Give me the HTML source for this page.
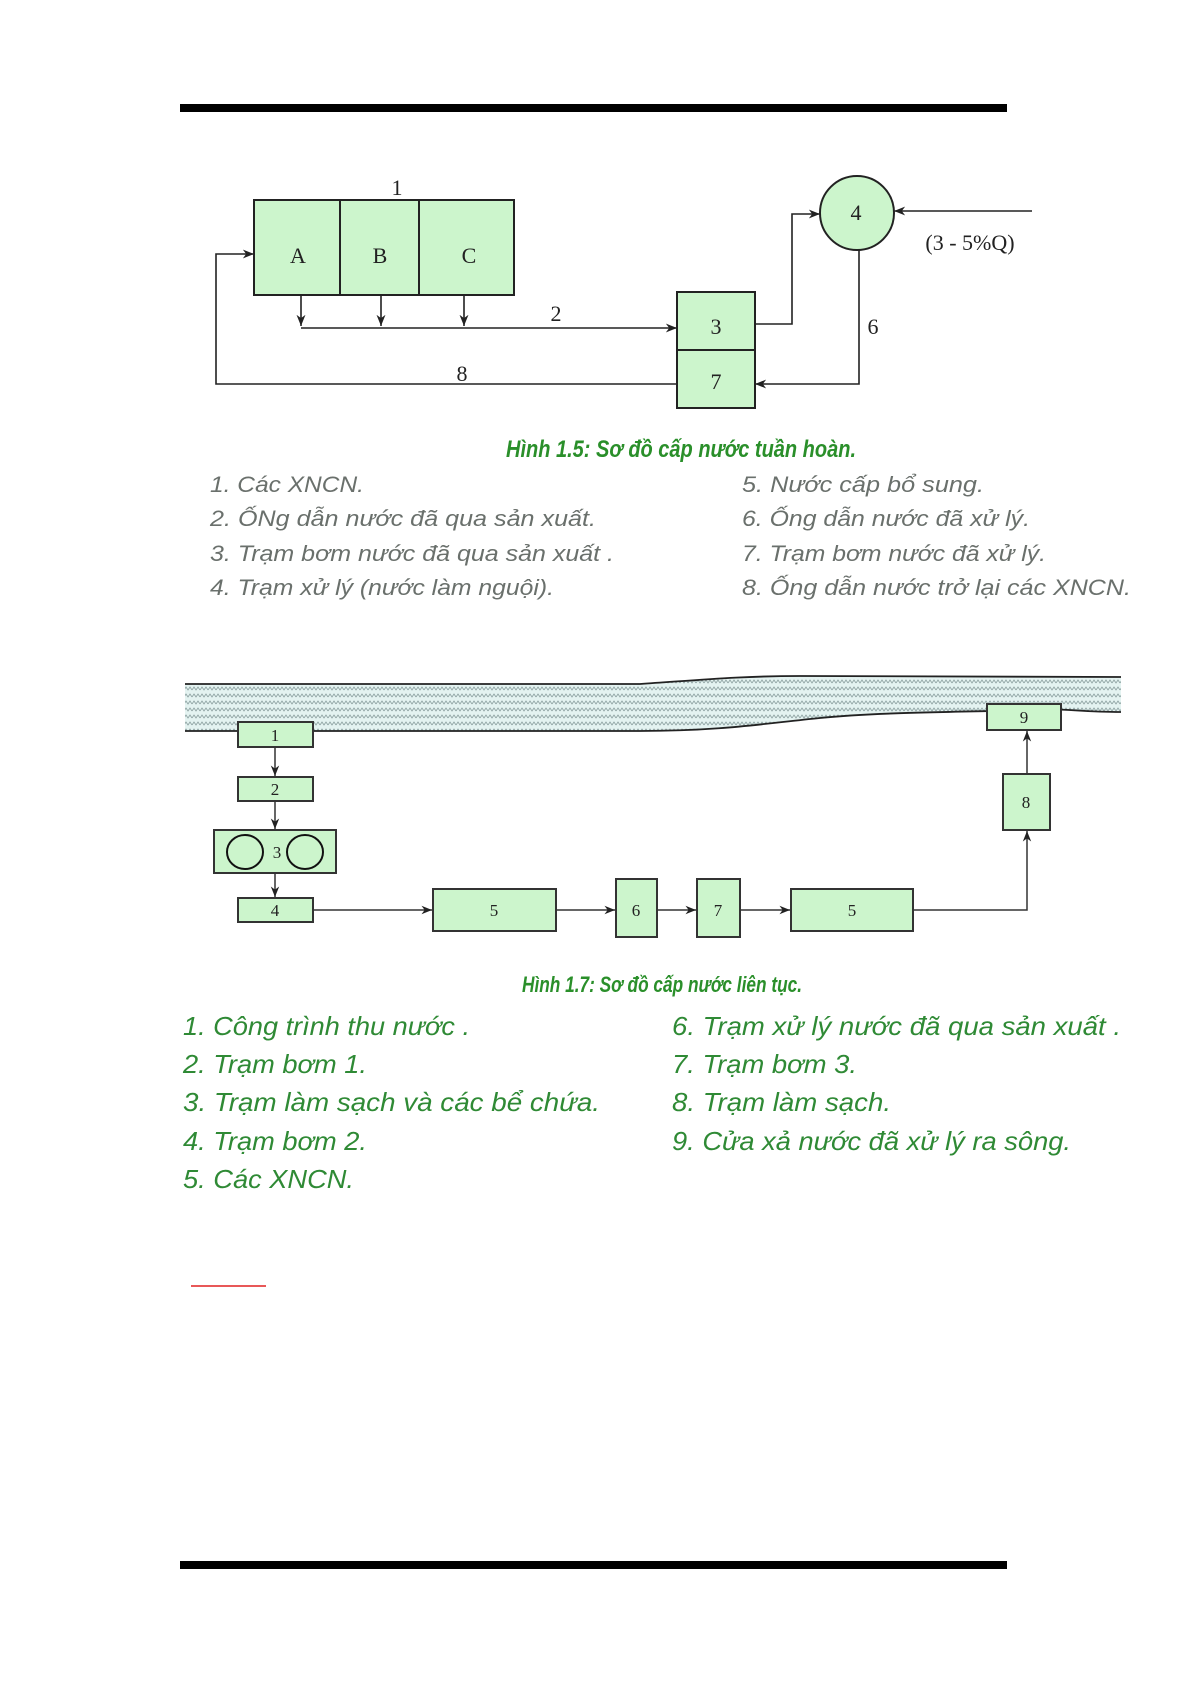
<!DOCTYPE html>
<html><head><meta charset="utf-8"><style>
html,body{margin:0;padding:0;background:#fff}
svg{display:block}
text{font-family:"Liberation Serif",serif}
.lg text{font-family:"Liberation Sans",sans-serif;font-style:italic}
.cap{font-family:"Liberation Sans",sans-serif;font-style:italic;font-weight:bold;fill:#2a8f2a}
</style></head><body>
<svg width="1191" height="1685" viewBox="0 0 1191 1685" xmlns="http://www.w3.org/2000/svg">
<defs>
<marker id="a" viewBox="0 0 10 10" refX="10" refY="5" markerWidth="7" markerHeight="7" orient="auto"><path d="M0,1 L10,5 L0,9 L3,5 Z" fill="#222"/></marker>
<pattern id="w" width="8" height="7" patternUnits="userSpaceOnUse"><path d="M0,4 L2,1 L4,4 L6,1 L8,4" fill="none" stroke="#8fa3a3" stroke-width="0.9"/></pattern>
</defs>
<rect x="180" y="104" width="827" height="8" fill="#000"/>
<rect x="180" y="1561" width="827" height="8" fill="#000"/>

<!-- Fig 1.5 -->
<g stroke="#222" stroke-width="2" fill="#ccf5cc">
<rect x="254" y="200" width="260" height="95"/>
<line x1="340" y1="200" x2="340" y2="295"/>
<line x1="419" y1="200" x2="419" y2="295"/>
<rect x="677" y="292" width="78" height="116"/>
<line x1="677" y1="350" x2="755" y2="350"/>
<circle cx="857" cy="213" r="37"/>
</g>
<g stroke="#222" stroke-width="1.6" fill="none">
<line x1="301" y1="295" x2="301" y2="326" marker-end="url(#a)"/>
<line x1="381" y1="295" x2="381" y2="326" marker-end="url(#a)"/>
<line x1="464" y1="295" x2="464" y2="326" marker-end="url(#a)"/>
<line x1="301" y1="328" x2="677" y2="328" marker-end="url(#a)"/>
<polyline points="755,324 792,324 792,214 820,214" marker-end="url(#a)"/>
<line x1="1032" y1="211" x2="894" y2="211" marker-end="url(#a)"/>
<polyline points="859,250 859,384 755,384" marker-end="url(#a)"/>
<polyline points="677,384 216,384 216,254 254,254" marker-end="url(#a)"/>
</g>
<g font-size="22" fill="#222" text-anchor="middle">
<text x="397" y="195">1</text>
<text x="298" y="263">A</text>
<text x="380" y="263">B</text>
<text x="469" y="263">C</text>
<text x="556" y="321">2</text>
<text x="716" y="334">3</text>
<text x="716" y="389">7</text>
<text x="856" y="220">4</text>
<text x="873" y="334">6</text>
<text x="462" y="381">8</text>
<text x="970" y="250">(3 - 5%Q)</text>
</g>
<text class="cap" x="506" y="457" font-size="24" textLength="350" lengthAdjust="spacingAndGlyphs">Hình 1.5: Sơ đồ cấp nước tuần hoàn.</text>
<g class="lg" font-size="22" fill="#6a706c">
<text x="210" y="492" textLength="154" lengthAdjust="spacingAndGlyphs">1. Các XNCN.</text>
<text x="210" y="526" textLength="386" lengthAdjust="spacingAndGlyphs">2. ỐNg dẫn nước đã qua sản xuất.</text>
<text x="210" y="561" textLength="404" lengthAdjust="spacingAndGlyphs">3. Trạm bơm nước đã qua sản xuất .</text>
<text x="210" y="595" textLength="344" lengthAdjust="spacingAndGlyphs">4. Trạm xử lý (nước làm nguội).</text>
<text x="742" y="492" textLength="242" lengthAdjust="spacingAndGlyphs">5. Nước cấp bổ sung.</text>
<text x="742" y="526" textLength="288" lengthAdjust="spacingAndGlyphs">6. Ống dẫn nước đã xử lý.</text>
<text x="742" y="561" textLength="304" lengthAdjust="spacingAndGlyphs">7. Trạm bơm nước đã xử lý.</text>
<text x="742" y="595" textLength="389" lengthAdjust="spacingAndGlyphs">8. Ống dẫn nước trở lại các XNCN.</text>
</g>

<!-- Fig 1.7 -->
<path d="M185,684 L640,684 C700,680 740,676 800,676 L1121,677 L1121,712 C1080,712 1060,708 1040,710 C960,712 880,712 820,718 C760,724 720,731 640,731 L185,731 Z" fill="#e4f3f1"/>
<path d="M185,684 L640,684 C700,680 740,676 800,676 L1121,677 L1121,712 C1080,712 1060,708 1040,710 C960,712 880,712 820,718 C760,724 720,731 640,731 L185,731 Z" fill="url(#w)"/>
<path d="M185,684 L640,684 C700,680 740,676 800,676 L1121,677" fill="none" stroke="#222" stroke-width="1.8"/>
<path d="M1121,712 C1080,712 1060,708 1040,710 C960,712 880,712 820,718 C760,724 720,731 640,731 L185,731" fill="none" stroke="#222" stroke-width="1.8"/>
<g stroke="#333" stroke-width="2" fill="#ccf5cc">
<rect x="238" y="722" width="75" height="25"/>
<rect x="238" y="777" width="75" height="24"/>
<rect x="214" y="830" width="122" height="43"/>
<rect x="238" y="898" width="75" height="24"/>
<rect x="433" y="889" width="123" height="42"/>
<rect x="616" y="879" width="41" height="58"/>
<rect x="697" y="879" width="43" height="58"/>
<rect x="791" y="889" width="122" height="42"/>
<rect x="1003" y="774" width="47" height="56"/>
<rect x="987" y="704" width="74" height="26"/>
</g>
<g stroke="#111" stroke-width="2" fill="none">
<ellipse cx="245" cy="852" rx="18" ry="17"/>
<ellipse cx="305" cy="852" rx="18" ry="17"/>
</g>
<g stroke="#333" stroke-width="1.5" fill="none">
<line x1="275" y1="747" x2="275" y2="776" marker-end="url(#a)"/>
<line x1="275" y1="801" x2="275" y2="829" marker-end="url(#a)"/>
<line x1="275" y1="873" x2="275" y2="897" marker-end="url(#a)"/>
<line x1="313" y1="910" x2="432" y2="910" marker-end="url(#a)"/>
<line x1="556" y1="910" x2="615" y2="910" marker-end="url(#a)"/>
<line x1="657" y1="910" x2="696" y2="910" marker-end="url(#a)"/>
<line x1="740" y1="910" x2="790" y2="910" marker-end="url(#a)"/>
<polyline points="913,910 1027,910 1027,831" marker-end="url(#a)"/>
<line x1="1027" y1="774" x2="1027" y2="731" marker-end="url(#a)"/>
</g>
<g font-size="17" fill="#222" text-anchor="middle">
<text x="275" y="741">1</text>
<text x="275" y="795">2</text>
<text x="277" y="858">3</text>
<text x="275" y="916">4</text>
<text x="494" y="916">5</text>
<text x="636" y="916">6</text>
<text x="718" y="916">7</text>
<text x="852" y="916">5</text>
<text x="1026" y="808">8</text>
<text x="1024" y="723">9</text>
</g>
<text class="cap" x="522" y="992" font-size="22" textLength="280" lengthAdjust="spacingAndGlyphs">Hình 1.7: Sơ đồ cấp nước liên tục.</text>
<g class="lg" font-size="26" fill="#2f8a35">
<text x="183" y="1035" textLength="287" lengthAdjust="spacingAndGlyphs">1. Công trình thu nước .</text>
<text x="183" y="1073" textLength="184" lengthAdjust="spacingAndGlyphs">2. Trạm bơm 1.</text>
<text x="183" y="1111" textLength="417" lengthAdjust="spacingAndGlyphs">3. Trạm làm sạch và các bể chứa.</text>
<text x="183" y="1150" textLength="184" lengthAdjust="spacingAndGlyphs">4. Trạm bơm 2.</text>
<text x="183" y="1188" textLength="171" lengthAdjust="spacingAndGlyphs">5. Các XNCN.</text>
<text x="672" y="1035" textLength="449" lengthAdjust="spacingAndGlyphs">6. Trạm xử lý nước đã qua sản xuất .</text>
<text x="672" y="1073" textLength="185" lengthAdjust="spacingAndGlyphs">7. Trạm bơm 3.</text>
<text x="672" y="1111" textLength="219" lengthAdjust="spacingAndGlyphs">8. Trạm làm sạch.</text>
<text x="672" y="1150" textLength="399" lengthAdjust="spacingAndGlyphs">9. Cửa xả nước đã xử lý ra sông.</text>
</g>
<line x1="191" y1="1286" x2="266" y2="1286" stroke="#e02020" stroke-width="1.5"/>
</svg>
</body></html>
